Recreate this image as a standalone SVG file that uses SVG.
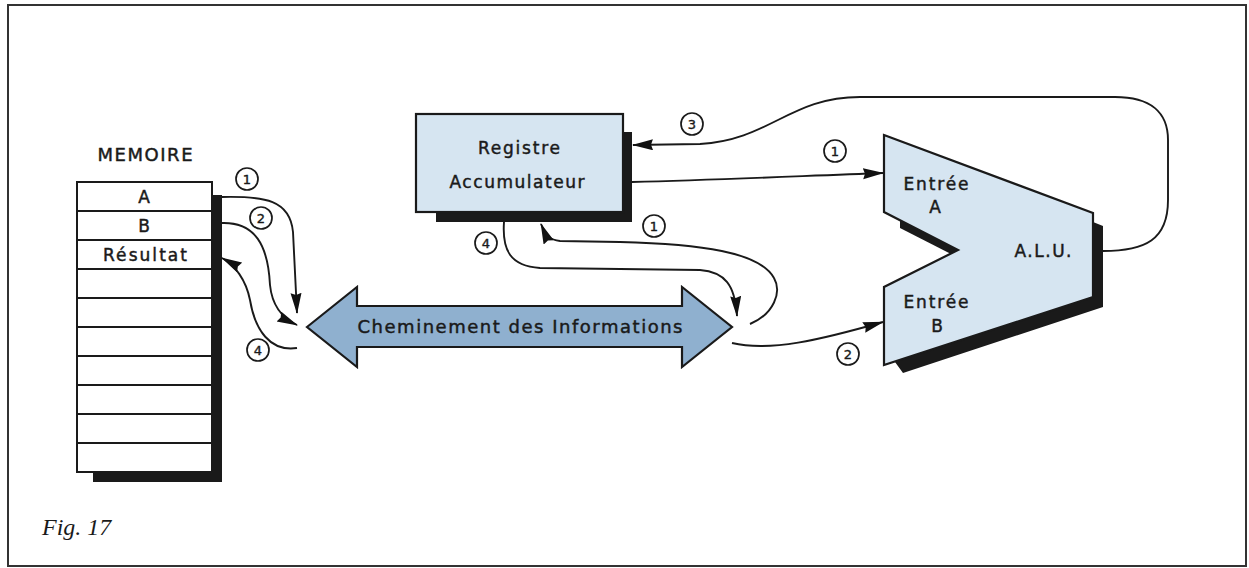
<svg xmlns="http://www.w3.org/2000/svg" width="1249" height="568" viewBox="0 0 1249 568">
<defs>
<marker id="ah" markerUnits="userSpaceOnUse" markerWidth="22" markerHeight="12" refX="20" refY="5.5" orient="auto" viewBox="0 0 22 12">
<path d="M0,0 L21,5.5 L0,11 L2,5.5 Z" fill="#111"/>
</marker>
<style>
.lbl{font-family:"DejaVu Sans","Liberation Sans",sans-serif;fill:#1a1a1a;stroke:#1a1a1a;stroke-width:0.45;text-anchor:middle}
.num{font-family:"DejaVu Sans","Liberation Sans",sans-serif;font-size:13px;fill:#1a1a1a;stroke:#1a1a1a;stroke-width:0.4;text-anchor:middle}
.circ{fill:#fff;stroke:#1a1a1a;stroke-width:1.7}
.con{fill:none;stroke:#1a1a1a;stroke-width:1.9}
.shadow{fill:#1a1a1a}
.light{fill:#d6e5f1;stroke:#1a1a1a;stroke-width:2.2}
</style>
</defs>
<rect x="0" y="0" width="1249" height="568" fill="#fff"/>
<rect x="8" y="5" width="1238" height="561" fill="none" stroke="#333" stroke-width="2"/>

<g id="memoire">
<text class="lbl" x="145" y="161" font-size="18" textLength="95" lengthAdjust="spacing">MEMOIRE</text>
<rect class="shadow" x="93" y="195" width="129" height="287"/>
<rect x="77" y="182" width="135" height="290" fill="#fff" stroke="#1a1a1a" stroke-width="2"/>
<g stroke="#1a1a1a" stroke-width="1.8">
<line x1="77" y1="211" x2="212" y2="211"/>
<line x1="77" y1="240" x2="212" y2="240"/>
<line x1="77" y1="269" x2="212" y2="269"/>
<line x1="77" y1="298" x2="212" y2="298"/>
<line x1="77" y1="327" x2="212" y2="327"/>
<line x1="77" y1="356" x2="212" y2="356"/>
<line x1="77" y1="385" x2="212" y2="385"/>
<line x1="77" y1="414" x2="212" y2="414"/>
<line x1="77" y1="443" x2="212" y2="443"/>
</g>
<text class="lbl" x="144" y="203" font-size="17">A</text>
<text class="lbl" x="144" y="232" font-size="17">B</text>
<text class="lbl" x="145" y="261" font-size="17" textLength="84" lengthAdjust="spacing">Résultat</text>
</g>

<g id="registre">
<rect class="shadow" x="436" y="132" width="196" height="90"/>
<rect class="light" x="416" y="114" width="207" height="98"/>
<text class="lbl" x="519" y="154" font-size="17" textLength="82" lengthAdjust="spacing">Registre</text>
<text class="lbl" x="517" y="188" font-size="17" textLength="135" lengthAdjust="spacing">Accumulateur</text>
</g>

<g id="alu">
<path class="shadow" d="M1093,222 L1103,226 L1103,307 L903,373 L895,362 L1000,320 Z"/>
<path class="shadow" d="M900,220 L958,250 L951,254 L900,228 Z"/>
<path class="light" d="M884,135 L1093,213 L1093,297 L884,365 L884,287 L958,250 L884,212 Z"/>
<text class="lbl" x="936" y="190" font-size="17" textLength="65" lengthAdjust="spacing">Entrée</text>
<text class="lbl" x="935" y="213" font-size="17">A</text>
<text class="lbl" x="1043" y="257" font-size="17" textLength="57" lengthAdjust="spacing">A.L.U.</text>
<text class="lbl" x="936" y="308" font-size="17" textLength="65" lengthAdjust="spacing">Entrée</text>
<text class="lbl" x="937" y="332" font-size="17">B</text>
</g>

<g id="bus">
<path d="M307,327 L357,287 L357,306 L682,306 L682,287 L732,327 L682,367 L682,347 L357,347 L357,367 Z" fill="#8fb0cf" stroke="#1a1a1a" stroke-width="2.2"/>
<text class="lbl" x="520" y="333" font-size="18" textLength="325" lengthAdjust="spacing">Cheminement des Informations</text>
</g>

<g id="connectors">
<path class="con" d="M222,197 C265,196 290,200 293,232 L297,313" marker-end="url(#ah)"/>
<path class="con" d="M222,223 C255,222 268,245 270,285 C272,305 282,318 297,325" marker-end="url(#ah)"/>
<path class="con" d="M297,348 C270,352 255,330 250,300 C246,280 235,265 222,258" marker-end="url(#ah)"/>
<path class="con" d="M1103,251 C1145,251 1168,240 1168,200 L1168,140 C1168,112 1150,97 1115,97 L860,97 C790,97 770,140 700,144 L633,145" marker-end="url(#ah)"/>
<path class="con" d="M632,182 C720,180 800,176 883,173" marker-end="url(#ah)"/>
<path class="con" d="M750,324 C774,314 782,292 774,278 C760,252 700,244 620,242 L560,241 C550,240 546,236 541,224" marker-end="url(#ah)"/>
<path class="con" d="M504,222 C502,250 510,266 540,268 L700,270 C725,272 735,285 737,316" marker-end="url(#ah)"/>
<path class="con" d="M732,343 C770,352 820,340 883,322" marker-end="url(#ah)"/>
</g>

<g id="labels">
<circle class="circ" cx="247" cy="179" r="11"/><text class="num" x="247" y="184">1</text>
<circle class="circ" cx="261" cy="218" r="11"/><text class="num" x="261" y="223">2</text>
<circle class="circ" cx="258" cy="350" r="11"/><text class="num" x="258" y="355">4</text>
<circle class="circ" cx="692" cy="124" r="11"/><text class="num" x="692" y="129">3</text>
<circle class="circ" cx="835" cy="151" r="11"/><text class="num" x="835" y="156">1</text>
<circle class="circ" cx="654" cy="226" r="11"/><text class="num" x="654" y="231">1</text>
<circle class="circ" cx="486" cy="243" r="11"/><text class="num" x="486" y="248">4</text>
<circle class="circ" cx="848" cy="354" r="11"/><text class="num" x="848" y="359">2</text>
</g>

<text x="42" y="535" font-family="Liberation Serif, serif" font-style="italic" font-size="24" fill="#1a1a1a">Fig. 17</text>
</svg>
